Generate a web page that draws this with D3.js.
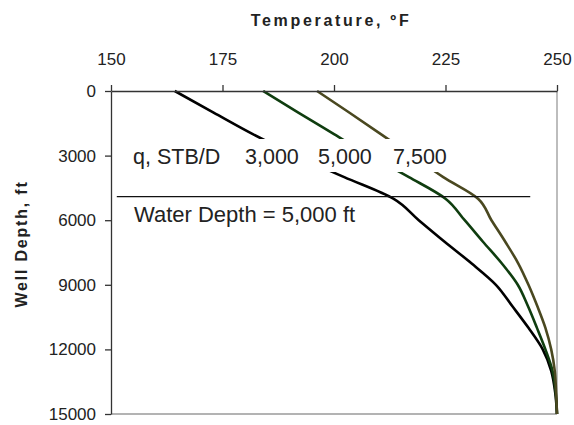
<!DOCTYPE html>
<html>
<head>
<meta charset="utf-8">
<script src="https://cdn.jsdelivr.net/npm/d3@7"></script>
<style>
  body { margin: 0; background: #fff; }
  svg { display: block; font-family: "Liberation Sans", Arial, sans-serif; }
</style>
</head>
<body>
<svg id="chart" width="574" height="425"></svg>
<script>
// ---- data ----
const depths = [0, 1000, 2000, 3000, 4000, 5000, 6000, 7000, 8000, 9000, 10000, 11000, 12000, 13000, 14000, 15000];
const temp3000 = [164.3, 173.0, 181.8, 191.5, 202.3, 213.3, 219.0, 224.8, 230.8, 236.3, 240.0, 243.6, 246.8, 248.7, 249.6, 250.0];
const temp5000 = [184.1, 192.0, 200.0, 208.0, 216.8, 225.0, 229.3, 233.4, 237.6, 241.2, 243.5, 245.5, 247.4, 249.0, 249.7, 250.0];
const temp7500 = [196.2, 203.4, 210.5, 217.5, 224.5, 232.3, 235.3, 238.4, 241.3, 243.6, 245.6, 247.4, 248.7, 249.5, 249.8, 250.0];
const rates = ["3,000", "5,000", "7,500"];
const xTicks = [150, 175, 200, 225, 250];
const yTicks = [0, 3000, 6000, 9000, 12000, 15000];
const waterDepth = 5000;
const waterLine = [151.3, 244.0];

// ---- layout ----
const svg = d3.select("#chart");
const pL = 111, pR = 557, pT = 91, pB = 414;
const x = d3.scaleLinear().domain([150, 250]).range([pL, pR]);
const y = d3.scaleLinear().domain([0, 15000]).range([pT, pB]);

// frame (right & bottom)
svg.append("line").attr("x1", pR).attr("x2", pR).attr("y1", pT).attr("y2", pB)
  .attr("stroke", "#9a9a9a").attr("stroke-width", 1.3);
svg.append("line").attr("x1", pL).attr("x2", pR).attr("y1", pB).attr("y2", pB)
  .attr("stroke", "#9a9a9a").attr("stroke-width", 1.3);

// series
const series = [
  { vals: temp3000, color: "#000000" },
  { vals: temp5000, color: "#0f3d0f" },
  { vals: temp7500, color: "#4a4820" }
];
const line = d3.line()
  .x(d => x(d[0]))
  .y(d => y(d[1]))
  .curve(d3.curveMonotoneY);
series.forEach(s => {
  svg.append("path")
    .attr("d", line(s.vals.map((t, i) => [t, depths[i]])))
    .attr("fill", "none").attr("stroke", s.color).attr("stroke-width", 2.6)
    .attr("stroke-linejoin", "round");
});

// label box covering lines
svg.append("rect").attr("x", 128).attr("y", 139).attr("width", 322).attr("height", 33).attr("fill", "#fff");
const lab = svg.append("text").attr("y", 164).attr("font-size", 21.5).attr("fill", "#222");
lab.append("tspan").attr("x", 133).text("q, STB/D");
const rateX = [245, 318, 393];
rates.forEach((r, i) => lab.append("tspan").attr("x", rateX[i]).text(r));

// water depth line
svg.append("line")
  .attr("x1", x(waterLine[0])).attr("x2", x(waterLine[1]))
  .attr("y1", y(waterDepth) - 2).attr("y2", y(waterDepth) - 2)
  .attr("stroke", "#111").attr("stroke-width", 1.2);
svg.append("text").attr("x", 134).attr("y", 222).attr("font-size", 22).attr("fill", "#222")
  .text("Water Depth = " + d3.format(",")(waterDepth) + " ft");

// top axis
const xAxis = svg.append("g").attr("transform", `translate(0,${pT})`)
  .call(d3.axisTop(x).tickValues(xTicks).tickSize(6).tickSizeOuter(0).tickPadding(20).tickFormat(d3.format("d")));
xAxis.select(".domain").attr("stroke", "#333").attr("stroke-width", 1.3);
xAxis.selectAll(".tick line").attr("stroke", "#333").attr("stroke-width", 1.3);
xAxis.selectAll("text").attr("font-size", 17).attr("fill", "#222").attr("font-family", "Liberation Sans, Arial, sans-serif");

// left axis
const yAxis = svg.append("g").attr("transform", `translate(${pL},0)`)
  .call(d3.axisLeft(y).tickValues(yTicks).tickSize(6).tickSizeOuter(0).tickPadding(9).tickFormat(d3.format("d")));
yAxis.select(".domain").attr("stroke", "#333").attr("stroke-width", 1.3);
yAxis.selectAll(".tick line").attr("stroke", "#333").attr("stroke-width", 1.3);
yAxis.selectAll("text").attr("font-size", 17).attr("fill", "#222").attr("font-family", "Liberation Sans, Arial, sans-serif");

// titles
svg.append("text").attr("x", 331).attr("y", 26).attr("text-anchor", "middle")
  .attr("font-size", 16).attr("font-weight", "bold").attr("letter-spacing", 2.7).attr("fill", "#222")
  .text("Temperature, ºF");
svg.append("text").attr("transform", "translate(27,244) rotate(-90)").attr("text-anchor", "middle")
  .attr("font-size", 16).attr("font-weight", "bold").attr("letter-spacing", 1.8).attr("fill", "#222")
  .text("Well Depth, ft");
</script>
</body>
</html>
